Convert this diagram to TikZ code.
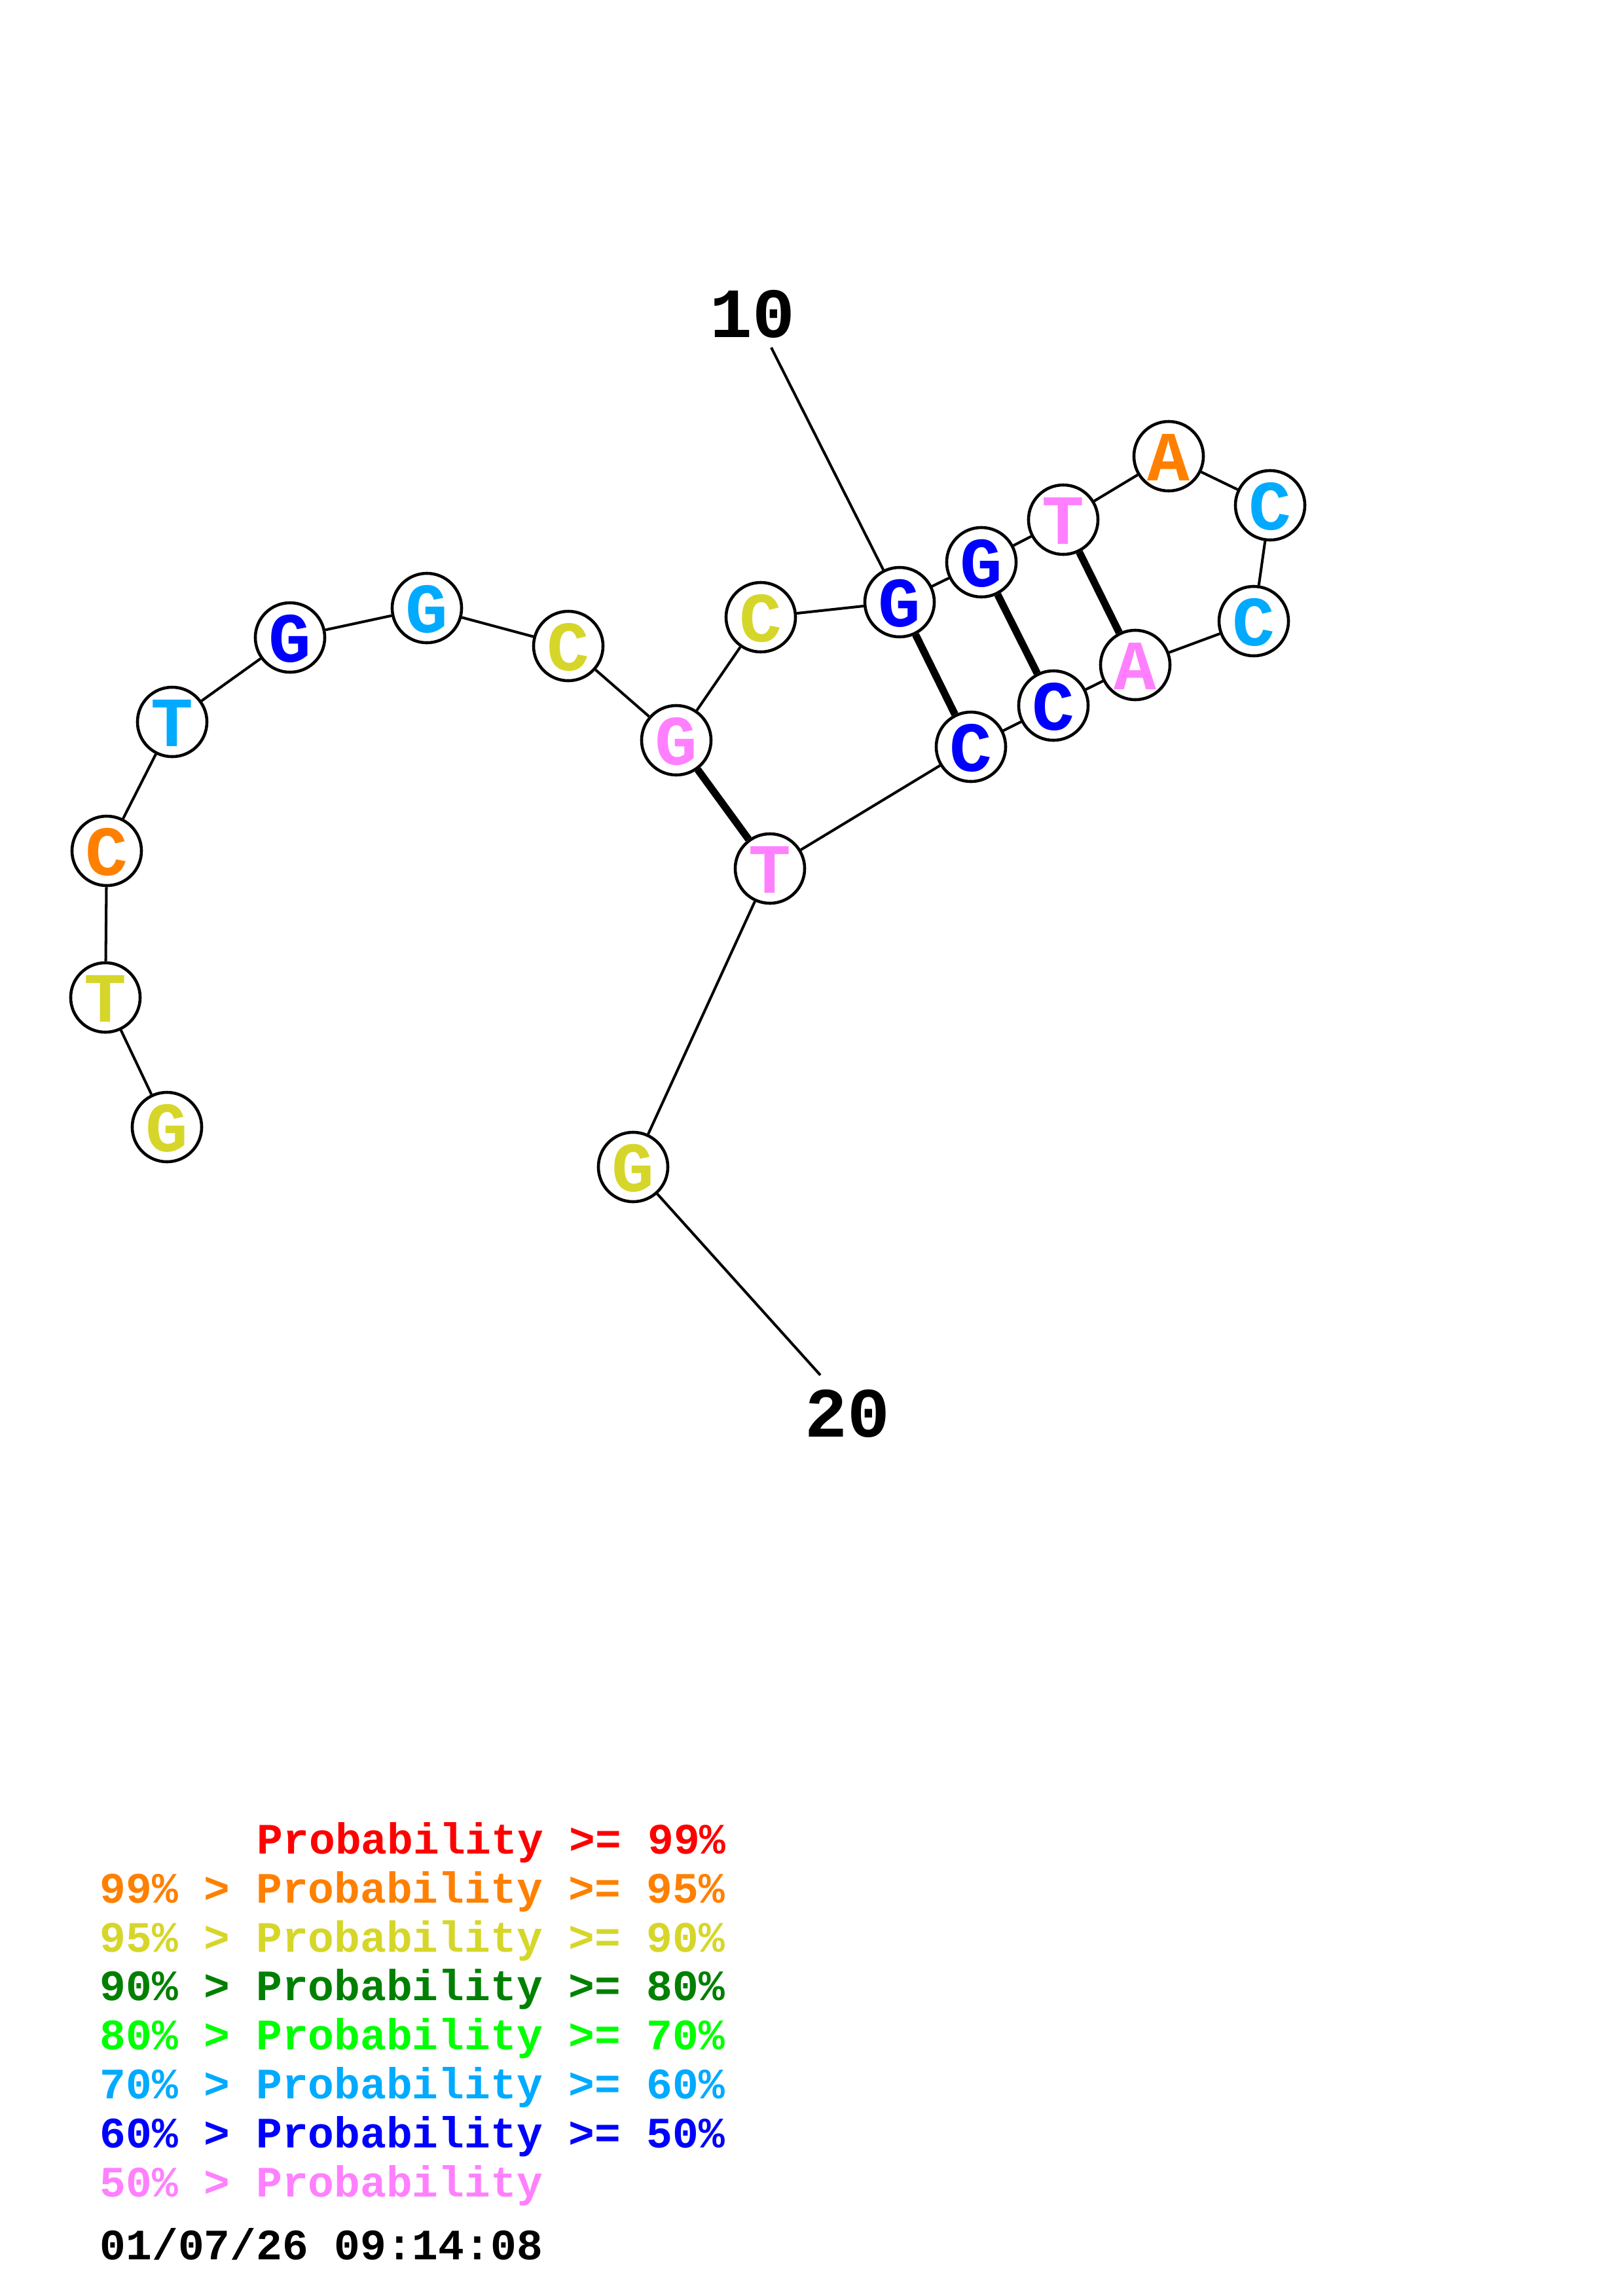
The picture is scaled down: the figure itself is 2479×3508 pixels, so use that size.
\documentclass[tikz,border=0pt]{standalone}
\usepackage{fontspec}
\setmainfont{Liberation Mono}
\definecolor{cRed}{RGB}{255,0,0}
\definecolor{cOrange}{RGB}{255,128,0}
\definecolor{cYellow}{RGB}{214,214,42}
\definecolor{cDkGreen}{RGB}{0,128,0}
\definecolor{cGreen}{RGB}{0,255,0}
\definecolor{cCyan}{RGB}{0,170,255}
\definecolor{cBlue}{RGB}{0,0,255}
\definecolor{cPink}{RGB}{255,128,255}
\tikzset{
  base/.style={circle, draw=black, line width=1.3pt, fill=white, minimum size=1.06cm,
    inner sep=0pt, font=\fontsize{30.7pt}{30.7pt}\selectfont\bfseries,
    text height=0.74cm, text depth=0pt},
  bb/.style={line width=1.15pt},
  pairbond/.style={line width=3.2pt},
  numlab/.style={inner sep=0pt, text=black, font=\fontsize{30.7pt}{30.7pt}\selectfont\bfseries},
  leg/.style={anchor=base west, inner sep=0pt, font=\fontsize{18.85pt}{20pt}\selectfont\bfseries}
}
\begin{document}
\begin{tikzpicture}[x=0.01cm,y=-0.01cm]
\useasboundingbox (0,0) rectangle (2479,3508);
% nucleotides
\node[base,text=cYellow] (n1)  at (255,1722) {G};
\node[base,text=cYellow] (n2)  at (161,1524) {T};
\node[base,text=cOrange] (n3)  at (163,1300) {C};
\node[base,text=cCyan]   (n4)  at (263,1103) {T};
\node[base,text=cBlue]   (n5)  at (443,974)  {G};
\node[base,text=cCyan]   (n6)  at (652,929)  {G};
\node[base,text=cYellow] (n7)  at (868,987)  {C};
\node[base,text=cPink]   (n8)  at (1033,1131) {G};
\node[base,text=cYellow] (n9)  at (1162,943) {C};
\node[base,text=cBlue]   (n10) at (1374,920) {G};
\node[base,text=cBlue]   (n11) at (1499,859) {G};
\node[base,text=cPink]   (n12) at (1624,794) {T};
\node[base,text=cOrange] (n13) at (1785,697) {A};
\node[base,text=cCyan]   (n14) at (1940,772) {C};
\node[base,text=cCyan]   (n15) at (1915,949) {C};
\node[base,text=cPink]   (n16) at (1734,1016) {A};
\node[base,text=cBlue]   (n17) at (1609,1078) {C};
\node[base,text=cBlue]   (n18) at (1483,1141) {C};
\node[base,text=cPink]   (n19) at (1176,1327) {T};
\node[base,text=cYellow] (n20) at (967,1783) {G};
% position labels
\node[numlab] (lab10) at (1149,480) {10};
\node[numlab] (lab20) at (1294,2160) {20};
\coordinate (c10) at (1178,531);
\coordinate (c20) at (1253,2101);
% backbone
\draw[bb] (n1) -- (n2) -- (n3) -- (n4) -- (n5) -- (n6) -- (n7) -- (n8) -- (n9) -- (n10)
  -- (n11) -- (n12) -- (n13) -- (n14) -- (n15) -- (n16) -- (n17) -- (n18) -- (n19) -- (n20);
\draw[bb] (c10) -- (n10);
\draw[bb] (n20) -- (c20);
% base pairs
\draw[pairbond] (n8) -- (n19);
\draw[pairbond] (n10) -- (n18);
\draw[pairbond] (n11) -- (n17);
\draw[pairbond] (n12) -- (n16);
% legend
\node[leg,text=cRed]     (g1) at (392,2832) {Probability >= 99\%};
\node[leg,text=cOrange]  (g2) at (152,2907) {99\% > Probability >= 95\%};
\node[leg,text=cYellow]  (g3) at (152,2982) {95\% > Probability >= 90\%};
\node[leg,text=cDkGreen] (g4) at (152,3056) {90\% > Probability >= 80\%};
\node[leg,text=cGreen]   (g5) at (152,3131) {80\% > Probability >= 70\%};
\node[leg,text=cCyan]    (g6) at (152,3206) {70\% > Probability >= 60\%};
\node[leg,text=cBlue]    (g7) at (152,3281) {60\% > Probability >= 50\%};
\node[leg,text=cPink]    (g8) at (152,3356) {50\% > Probability};
\node[leg,text=black]    (g9) at (152,3452) {01/07/26 09:14:08};
\end{tikzpicture}
\end{document}
